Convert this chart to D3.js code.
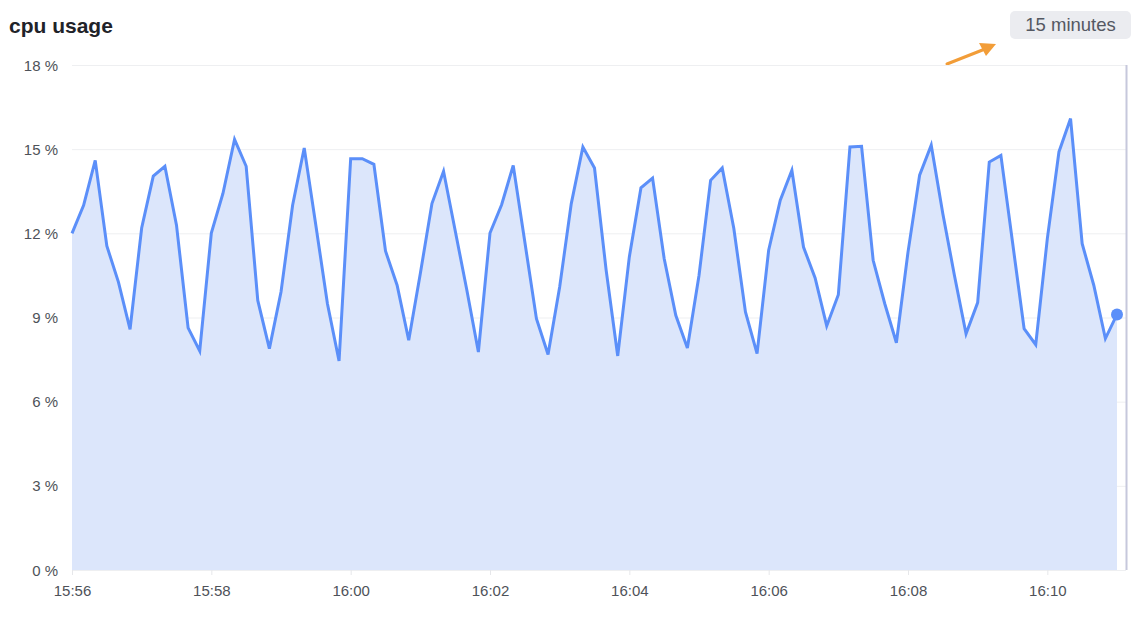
<!DOCTYPE html>
<html>
<head>
<meta charset="utf-8">
<script src="https://cdn.jsdelivr.net/npm/d3@7"></script>
<style>
  html, body { margin: 0; padding: 0; background: #fff; }
  svg { display: block; font-family: "Liberation Sans", Arial, sans-serif; }
</style>
</head>
<body>
<svg id="chart" width="1146" height="618"></svg>
<script>
// ---- data ----
const title = "cpu usage";
const rangeLabel = "15 minutes";
const startTime = "2024-01-01T15:56:00";
const stepSeconds = 10;
const cpuValues = [
  12.0, 13.0, 14.6, 11.55, 10.26, 8.58, 12.19, 14.04, 14.39, 12.29,
  8.63, 7.81, 12.01, 13.42, 15.35, 14.39, 9.61, 7.89, 9.91, 13.0,
  15.04, 12.29, 9.49, 7.45, 14.66, 14.66, 14.46, 11.37, 10.15, 8.19,
  10.57, 13.06, 14.21, 12.1, 9.99, 7.77, 12.01, 13.02, 14.42, 11.69,
  8.96, 7.68, 10.09, 13.06, 15.08, 14.33, 10.7, 7.63, 11.16, 13.62,
  13.97, 11.1, 9.08, 7.91, 10.5, 13.89, 14.33, 12.17, 9.2, 7.71,
  11.4, 13.18, 14.25, 11.51, 10.41, 8.7, 9.81, 15.08, 15.1, 11.04,
  9.49, 8.1, 11.33, 14.07, 15.14, 12.7, 10.5, 8.42, 9.53, 14.54,
  14.78, 11.69, 8.6, 8.03, 11.81, 14.9, 16.09, 11.63, 10.15, 8.25,
  9.11
];
const yTicks = [0, 3, 6, 9, 12, 15, 18];
const xTickLabels = ["15:56", "15:58", "16:00", "16:02", "16:04", "16:06", "16:08", "16:10"];

// ---- build ----
const t0 = new Date(startTime);
const data = cpuValues.map((v, i) => ({ t: new Date(t0.getTime() + i * stepSeconds * 1000), v }));
const xTicks = xTickLabels.map(s => new Date("2024-01-01T" + s + ":00"));

const svg = d3.select("#chart");
const x = d3.scaleTime().domain([data[0].t, data[data.length - 1].t]).range([72, 1117]);
const y = d3.scaleLinear().domain([0, 18]).range([570, 65]);

// title
svg.append("text").attr("x", 9).attr("y", 33)
  .attr("font-size", 21).attr("font-weight", 700).attr("fill", "#1f2329")
  .text(title);

// range button
svg.append("rect").attr("x", 1010).attr("y", 11).attr("width", 121).attr("height", 28)
  .attr("rx", 5).attr("fill", "#ebecf0");
svg.append("text").attr("x", 1070.5).attr("y", 31).attr("text-anchor", "middle")
  .attr("font-size", 18.5).attr("fill", "#545862").text(rangeLabel);

// arrow
svg.append("line").attr("x1", 947).attr("y1", 64).attr("x2", 985).attr("y2", 49)
  .attr("stroke", "#f29d38").attr("stroke-width", 3).attr("stroke-linecap", "round");
svg.append("path").attr("d", "M996,44 L979,43 L986,56 Z").attr("fill", "#f29d38");

// grid
svg.append("g").selectAll("line").data(yTicks).join("line")
  .attr("x1", 72).attr("x2", 1126)
  .attr("y1", d => y(d) + 0.5).attr("y2", d => y(d) + 0.5)
  .attr("stroke", "#eeeff1").attr("stroke-width", 1);

// y axis labels
svg.append("g").selectAll("text").data(yTicks).join("text")
  .attr("x", 58).attr("y", d => y(d) + 5.5).attr("text-anchor", "end")
  .attr("font-size", 15).attr("fill", "#4e5259")
  .text(d => d + " %");

// x axis
const xAxis = d3.axisBottom(x).tickValues(xTicks).tickFormat(d3.timeFormat("%H:%M")).tickSize(5).tickPadding(10);
const gx = svg.append("g").attr("transform", "translate(0,570)").call(xAxis);
gx.select(".domain").remove();
gx.selectAll(".tick line").attr("stroke", "#e6e7ea");
gx.selectAll(".tick text").attr("font-size", 15).attr("fill", "#4e5259")
  .attr("font-family", "'Liberation Sans', Arial, sans-serif");

// area & line
const area = d3.area().x(d => x(d.t)).y0(y(0)).y1(d => y(d.v));
const line = d3.line().x(d => x(d.t)).y(d => y(d.v));
svg.append("path").datum(data).attr("d", area).attr("fill", "#dce6fb");
svg.append("path").datum(data).attr("d", line).attr("fill", "none")
  .attr("stroke", "#5b8ff9").attr("stroke-width", 3).attr("stroke-linejoin", "miter");

// crosshair line at right edge
svg.append("line").attr("x1", 1126.5).attr("x2", 1126.5).attr("y1", 65).attr("y2", 570)
  .attr("stroke", "#c6c8dc").attr("stroke-width", 2);

// last point marker
const last = data[data.length - 1];
svg.append("circle").attr("cx", x(last.t)).attr("cy", y(last.v)).attr("r", 6)
  .attr("fill", "#5b8ff9");
</script>
</body>
</html>
